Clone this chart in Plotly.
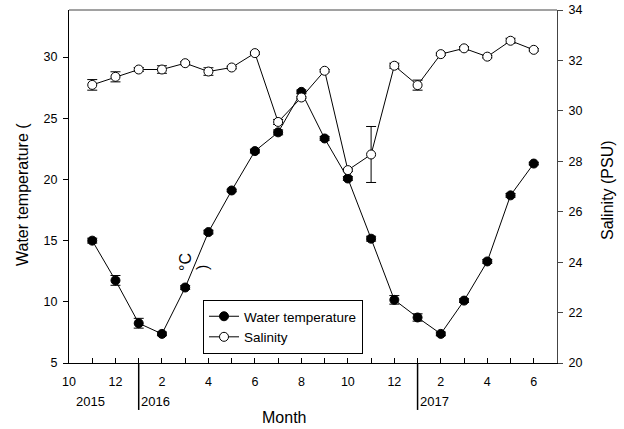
import plotly.graph_objects as go

# ---- data ----
years  = [2015, 2015, 2016, 2016, 2016, 2016, 2016, 2016, 2016, 2016, 2016, 2016, 2016, 2016, 2017, 2017, 2017, 2017, 2017, 2017]
months = [11, 12, 1, 2, 3, 4, 5, 6, 7, 8, 9, 10, 11, 12, 1, 2, 3, 4, 5, 6]
temp     = [15.0, 11.75, 8.25, 7.38, 11.17, 15.7, 19.1, 22.32, 23.85, 27.16, 23.35, 20.08, 15.16, 10.16, 8.72, 7.38, 10.1, 13.3, 18.7, 21.3]
temp_err = [0.2, 0.4, 0.4, 0.15, 0.15, 0.15, 0.1, 0.15, 0.2, 0.15, 0.15, 0.15, 0.2, 0.35, 0.3, 0.15, 0.15, 0.15, 0.15, 0.1]
sal      = [31.03, 31.35, 31.64, 31.64, 31.89, 31.56, 31.72, 32.29, 29.56, 30.53, 31.59, 27.65, 28.27, 31.79, 31.02, 32.25, 32.48, 32.15, 32.78, 32.42]
sal_err  = [0.21, 0.2, 0.08, 0.15, 0.06, 0.15, 0.05, 0.05, 0.1, 0.03, 0.05, 0.05, 1.11, 0.1, 0.2, 0.05, 0.07, 0.05, 0.1, 0.05]

tick_months = [10, 11, 12, 1, 2, 3, 4, 5, 6, 7, 8, 9, 10, 11, 12, 1, 2, 3, 4, 5, 6, 7]
year_labels = ["2015", "2016", "2017"]

x = [(y - 2015) * 12 + m - 10 for y, m in zip(years, months)]
tick_vals = list(range(len(tick_months)))
tick_text = [str(m) if i % 2 == 0 else "" for i, m in enumerate(tick_months)]

FONT = "Liberation Sans, Arial, sans-serif"

fig = go.Figure()
fig.add_trace(go.Scatter(
    x=x, y=temp, name="Water temperature", mode="lines+markers",
    line=dict(color="black", width=1),
    marker=dict(symbol="circle", size=9, color="black", line=dict(color="black", width=1)),
    error_y=dict(type="data", array=temp_err, visible=True, color="black", thickness=1, width=5),
))
fig.add_trace(go.Scatter(
    x=x, y=sal, name="Salinity", mode="lines+markers", yaxis="y2",
    line=dict(color="black", width=1),
    marker=dict(symbol="circle", size=9, color="white", line=dict(color="black", width=1)),
    error_y=dict(type="data", array=sal_err, visible=True, color="black", thickness=1, width=5),
))

fig.update_layout(
    template="none",
    width=624, height=429,
    margin=dict(l=69, r=67, t=10, b=66, autoexpand=False),
    paper_bgcolor="white", plot_bgcolor="white",
    font=dict(family=FONT, size=13, color="black"),
    showlegend=True,
    legend=dict(x=0.2746, y=0.1785, xanchor="left", yanchor="top",
                bordercolor="black", borderwidth=1, bgcolor="white",
                font=dict(size=13.5), tracegroupgap=0),
    xaxis=dict(range=[0, 21], tickvals=tick_vals, ticktext=tick_text,
               ticks="inside", ticklen=5, tickcolor="black", tickwidth=1,
               showline=True, linecolor="black", linewidth=1, mirror=False,
               showgrid=False, zeroline=False, automargin=False,
               ticklabelstandoff=7, tickfont=dict(size=12.5)),
    yaxis=dict(range=[5, 33.85], tickvals=[5, 10, 15, 20, 25, 30],
               ticks="outside", ticklen=5, tickcolor="black", tickwidth=1,
               showline=True, linecolor="black", linewidth=1,
               showgrid=False, zeroline=False, automargin=False,
               ticklabelstandoff=3, tickfont=dict(size=12.5)),
    yaxis2=dict(range=[20, 34], tickvals=[20, 22, 24, 26, 28, 30, 32, 34],
                overlaying="y", side="right",
                ticks="outside", ticklen=5, tickcolor="#444", tickwidth=1,
                showline=True, linecolor="#444", linewidth=1,
                showgrid=False, zeroline=False, automargin=False,
                ticklabelstandoff=3, tickfont=dict(size=12.5)),
)

# top frame line
fig.add_shape(type="line", xref="paper", yref="paper", x0=0, x1=1, y0=1, y1=1,
              line=dict(color="#444", width=1))

# year separators
for yr in (2016, 2017):
    xs = (yr - 2015) * 12 + 1 - 10
    fig.add_shape(type="line", xref="x", yref="paper", x0=xs, x1=xs, y0=0, y1=-0.133,
                  line=dict(color="black", width=1.5))

# year labels
fig.add_annotation(x=0.2, y=-0.11, xref="x", yref="paper", text=year_labels[0],
                   showarrow=False, xanchor="left", yanchor="middle", font=dict(size=13))
for yr, lbl in zip((2016, 2017), year_labels[1:]):
    xs = (yr - 2015) * 12 + 1 - 10
    fig.add_annotation(x=xs, y=-0.11, xref="x", yref="paper", text=lbl,
                       showarrow=False, xanchor="left", yanchor="middle", font=dict(size=13))

# axis titles and text (positions given in pixels, converted below)
W, H = 624, 429
L, R, T, B = 69, 67, 10, 66
pw, ph = W - L - R, H - T - B

def px(xp, yp):
    return (xp - L) / pw, (H - B - yp) / ph

for txt, xp, yp, ang, sz in [
    ("Month", 284, 417, 0, 16),
    ("Water temperature (", 22, 195, -90, 16),
    ("Salinity (PSU)", 607, 190, -90, 16),
    ("°C", 185, 262, -90, 16),
    (")", 202, 268, -90, 16),
]:
    ax_, ay_ = px(xp, yp)
    fig.add_annotation(x=ax_, y=ay_, xref="paper", yref="paper", text=txt,
                       showarrow=False, textangle=ang, xanchor="center", yanchor="middle",
                       font=dict(size=sz))

fig.write_html("out.html", config={"displayModeBar": False},
               post_script="document.body.style.margin='0';document.body.style.padding='0';")
